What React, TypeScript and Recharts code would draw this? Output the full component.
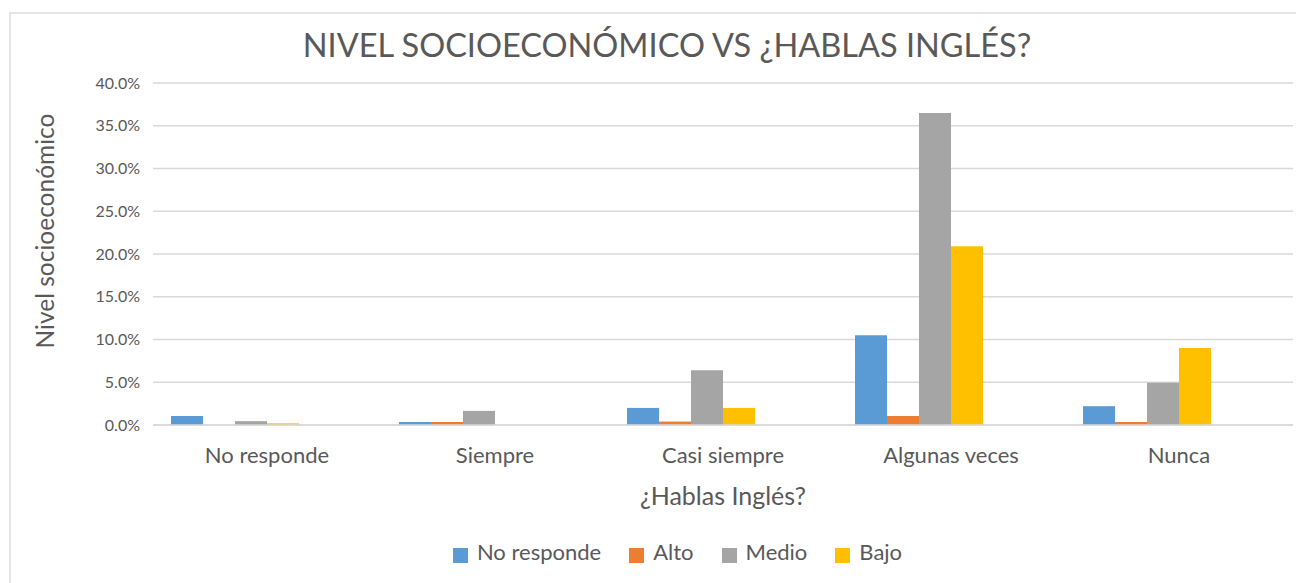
import { BarChart, Bar, XAxis, YAxis, CartesianGrid, Legend, Label } from 'recharts'

const categories = ['No responde', 'Siempre', 'Casi siempre', 'Algunas veces', 'Nunca']
const seriesNames = ['No responde', 'Alto', 'Medio', 'Bajo']
const noResponde = [1.05, 0.35, 2.0, 10.5, 2.2]
const alto = [0, 0.35, 0.4, 1.05, 0.35]
const medio = [0.45, 1.65, 6.4, 36.5, 4.95]
const bajo = [0.2, 0, 2.0, 20.9, 9.0]
const yTicks = [0, 5, 10, 15, 20, 25, 30, 35, 40]

const data = categories.map((name, i) => ({
  name,
  noResponde: noResponde[i],
  alto: alto[i],
  medio: medio[i],
  bajo: bajo[i],
}))

const TEXT = '#595959'
const FONT = 'Lato, sans-serif'

function YTitle(props: any) {
  const vb = props.viewBox
  const cx = 36
  const cy = vb.y + vb.height / 2 - 23
  return (
    <text
      x={cx}
      y={cy}
      transform={`rotate(-90, ${cx}, ${cy})`}
      textAnchor="middle"
      dominantBaseline="central"
      fill={TEXT}
      fontSize={24.5}
      fontFamily={FONT}
    >
      Nivel socioeconómico
    </text>
  )
}

export default function App() {
  return (
    <div style={{ position: 'relative', width: 1296, height: 575, fontFamily: FONT }}>
      <div
        style={{
          position: 'absolute',
          left: 1,
          top: 4,
          width: 1310,
          height: 580,
          borderLeft: '2px solid #e6e6e6',
          borderTop: '2px solid #e6e6e6',
        }}
      />
      <div
        style={{
          position: 'absolute',
          left: 0,
          top: 17,
          width: 1318,
          textAlign: 'center',
          fontSize: 32.5,
          color: TEXT,
        }}
      >
        NIVEL SOCIOECONÓMICO VS ¿HABLAS INGLÉS?
      </div>
      <BarChart
        width={1296}
        height={575}
        data={data}
        margin={{ top: 75, right: 11, left: 0, bottom: 18 }}
        barCategoryGap={18}
        barGap={0}
        style={{ position: 'absolute', left: 0, top: 0 }}
      >
        <CartesianGrid vertical={false} stroke="#d9d9d9" strokeWidth={1.5} />
        <XAxis
          dataKey="name"
          height={113}
          tickLine={false}
          axisLine={{ stroke: '#d9d9d9', strokeWidth: 1.5 }}
          tick={{ fill: TEXT, fontSize: 22, fontFamily: FONT }}
          tickMargin={16}
        >
          <Label
            value="¿Hablas Inglés?"
            position="insideTop"
            offset={62}
            fill={TEXT}
            fontSize={25}
            fontFamily={FONT}
          />
        </XAxis>
        <YAxis
          width={145}
          domain={[0, 40]}
          ticks={yTicks}
          tickFormatter={(v: number) => `${v.toFixed(1)}%`}
          tickLine={false}
          axisLine={false}
          tick={{ fill: TEXT, fontSize: 16, fontFamily: FONT }}
          tickMargin={7}
        >
          <Label content={YTitle} />
        </YAxis>
        <Legend
          verticalAlign="bottom"
          align="center"
          iconType="square"
          iconSize={15}
          wrapperStyle={{ paddingLeft: 82, boxSizing: 'border-box' }}
          itemSorter={(item: any) => seriesNames.indexOf(item.value)}
          formatter={(v: string) => (
            <span style={{ color: TEXT, fontSize: 22, paddingLeft: 5, paddingRight: 18 }}>{v}</span>
          )}
        />
        <Bar dataKey="noResponde" name="No responde" fill="#5B9BD5" isAnimationActive={false} />
        <Bar dataKey="alto" name="Alto" fill="#ED7D31" isAnimationActive={false} />
        <Bar dataKey="medio" name="Medio" fill="#A5A5A5" isAnimationActive={false} />
        <Bar dataKey="bajo" name="Bajo" fill="#FFC000" isAnimationActive={false} />
        <Bar dataKey="vacio1" legendType="none" fill="none" isAnimationActive={false} />
        <Bar dataKey="vacio2" legendType="none" fill="none" isAnimationActive={false} />
      </BarChart>
    </div>
  )
}
